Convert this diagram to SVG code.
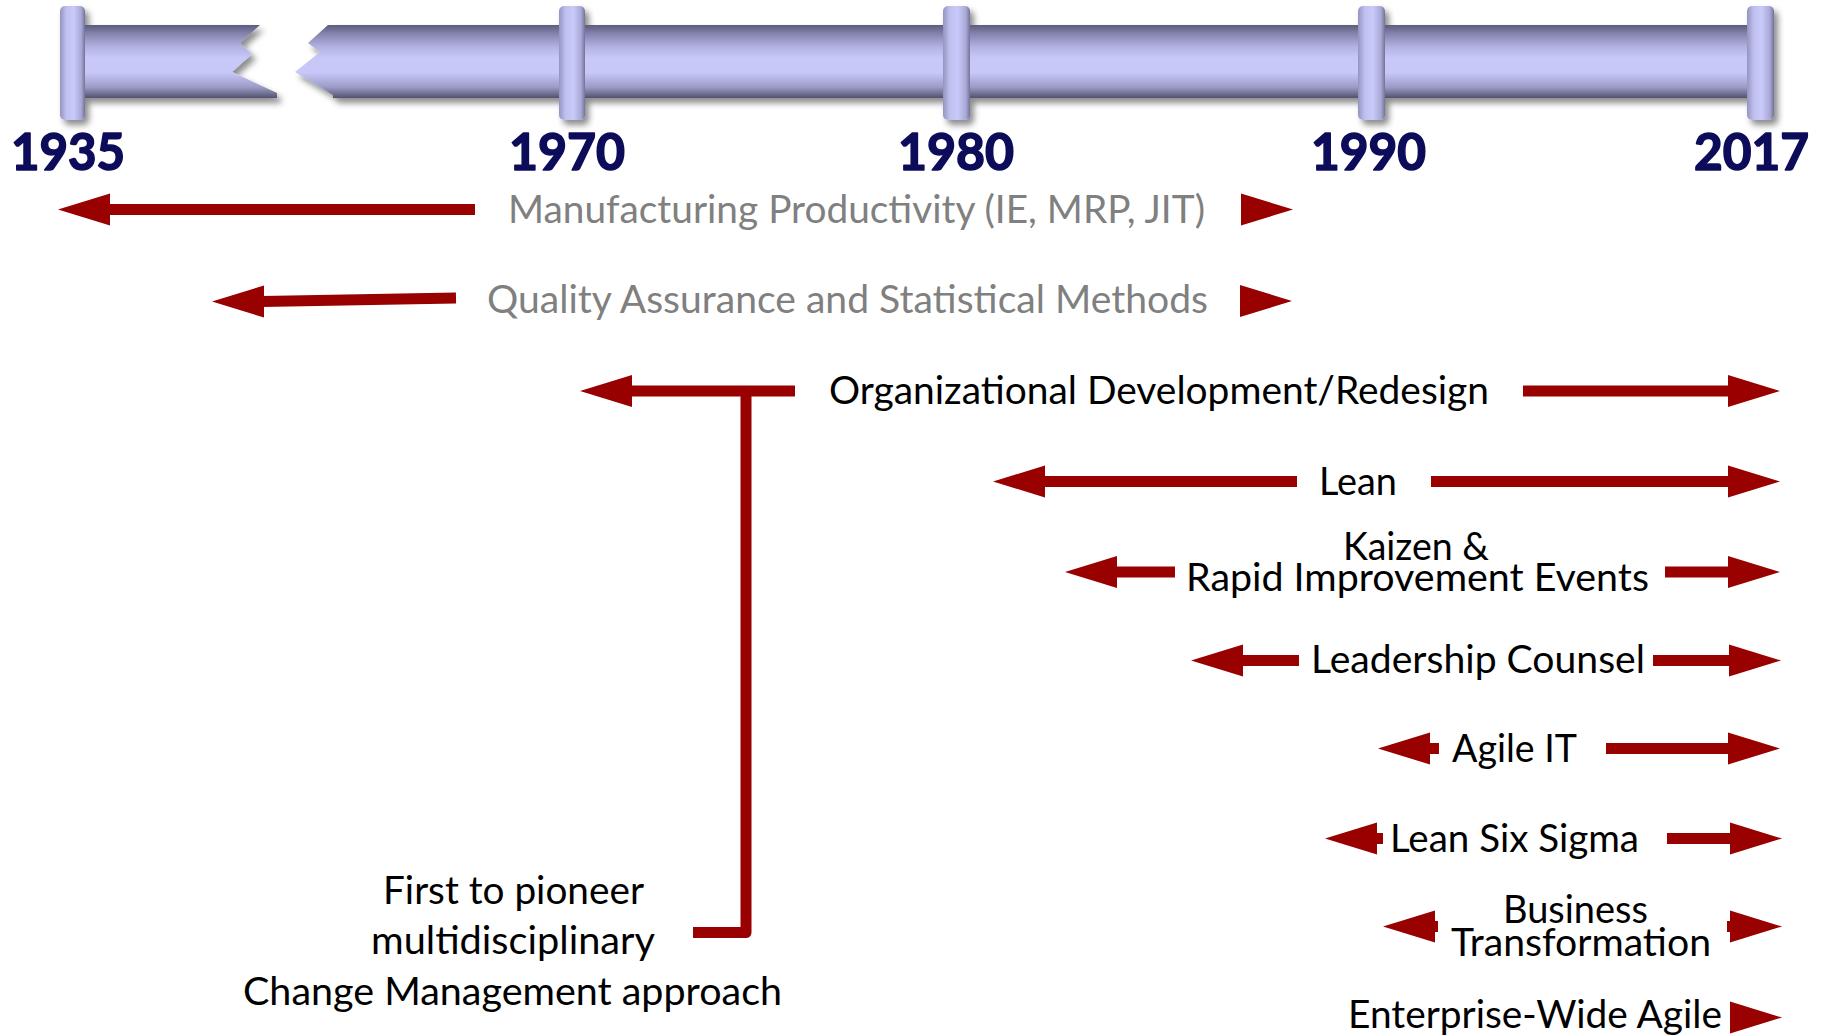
<svg xmlns="http://www.w3.org/2000/svg" xmlns:xlink="http://www.w3.org/1999/xlink" width="1825" height="1036" viewBox="0 0 1825 1036">
<style>
.t{font-family:Lato,"Open Sans","Liberation Sans",sans-serif;font-size:38px;fill:#000}
.g{fill:#808080}
.yr{font-family:Lato,"Open Sans","Liberation Sans",sans-serif;font-size:52px;font-weight:bold;fill:#0c0c5a;stroke:#0c0c5a;stroke-width:1.6px;stroke-linejoin:round}
.shaft{stroke:#990000;stroke-width:11;fill:none}
.head{fill:#990000}
</style>
<defs>
<linearGradient id="barG" x1="0" y1="0" x2="0" y2="1">
<stop offset="0" stop-color="#5c5c7c"/>
<stop offset="0.12" stop-color="#8484ae"/>
<stop offset="0.3" stop-color="#b2b2e2"/>
<stop offset="0.45" stop-color="#c8c8f8"/>
<stop offset="0.65" stop-color="#c8c8f8"/>
<stop offset="0.85" stop-color="#9c9cc8"/>
<stop offset="1" stop-color="#52526e"/>
</linearGradient>
<linearGradient id="capG" x1="0" y1="0" x2="1" y2="0">
<stop offset="0" stop-color="#9494c0"/>
<stop offset="0.25" stop-color="#c0c0f0"/>
<stop offset="0.55" stop-color="#cacafa"/>
<stop offset="0.85" stop-color="#a8a8d6"/>
<stop offset="1" stop-color="#727296"/>
</linearGradient>
<filter id="sh" x="-5%" y="-30%" width="110%" height="170%">
<feDropShadow dx="4" dy="5" stdDeviation="3" flood-color="#000" flood-opacity="0.45"/>
</filter>
<path id="hl" d="M0,0 L52,-16 L52,16 Z"/>
<path id="hr" d="M0,-16 L52,0 L0,16 Z"/>
</defs>
<rect width="1825" height="1036" fill="#fff"/>

<g id="timeline" filter="url(#sh)">
<polygon points="70,25 260,25 240,43 252,54 232,72 277,93 277,98 70,98" fill="url(#barG)"/>
<polygon points="328,25 1760,25 1760,98 333,98 333,95 295,72 320,52 308,43" fill="url(#barG)"/>
<rect x="60" y="6" width="25" height="114" rx="5" fill="url(#capG)"/>
<rect x="559" y="6" width="26" height="114" rx="5" fill="url(#capG)"/>
<rect x="943" y="6" width="27" height="114" rx="5" fill="url(#capG)"/>
<rect x="1358" y="6" width="27" height="114" rx="5" fill="url(#capG)"/>
<rect x="1747" y="6" width="27" height="114" rx="5" fill="url(#capG)"/>
</g>

<g id="years">
<text class="yr" x="11" y="170" textLength="114" lengthAdjust="spacingAndGlyphs">1935</text>
<text class="yr" x="509" y="170" textLength="116" lengthAdjust="spacingAndGlyphs">1970</text>
<text class="yr" x="898" y="170" textLength="116" lengthAdjust="spacingAndGlyphs">1980</text>
<text class="yr" x="1311" y="170" textLength="115" lengthAdjust="spacingAndGlyphs">1990</text>
<text class="yr" x="1694" y="170" textLength="115" lengthAdjust="spacingAndGlyphs">2017</text>
</g>

<g id="connectors">
<!-- Row 1 -->
<line class="shaft" x1="105" y1="209.5" x2="475" y2="209.5"/>
<use href="#hl" class="head" x="58" y="209.5"/>
<use href="#hr" class="head" x="1241" y="209.5"/>
<!-- Row 2 -->
<line class="shaft" x1="262" y1="301.5" x2="456" y2="298"/>
<use href="#hl" class="head" x="212" y="301.5"/>
<use href="#hr" class="head" x="1240" y="301"/>
<!-- Row 3 -->
<line class="shaft" x1="630" y1="391" x2="795" y2="391"/>
<use href="#hl" class="head" x="580" y="391"/>
<line class="shaft" x1="1523" y1="391" x2="1732" y2="391"/>
<use href="#hr" class="head" x="1728" y="391"/>
<path class="shaft" d="M746,391 V932.5 H693" stroke-linejoin="round"/>
<!-- Row 4 -->
<line class="shaft" x1="1042" y1="481.5" x2="1297" y2="481.5"/>
<use href="#hl" class="head" x="993" y="481.5"/>
<line class="shaft" x1="1431" y1="481.5" x2="1732" y2="481.5"/>
<use href="#hr" class="head" x="1728" y="481.5"/>
<!-- Row 5 -->
<line class="shaft" x1="1113" y1="572" x2="1175" y2="572"/>
<use href="#hl" class="head" x="1065" y="572"/>
<line class="shaft" x1="1665" y1="572" x2="1732" y2="572"/>
<use href="#hr" class="head" x="1728" y="572"/>
<!-- Row 6 -->
<line class="shaft" x1="1240" y1="660.5" x2="1299" y2="660.5"/>
<use href="#hl" class="head" x="1191" y="660.5"/>
<line class="shaft" x1="1653" y1="660.5" x2="1732" y2="660.5"/>
<use href="#hr" class="head" x="1729" y="660.5"/>
<!-- Row 7 -->
<line class="shaft" x1="1427" y1="748.5" x2="1439" y2="748.5"/>
<use href="#hl" class="head" x="1378" y="748.5"/>
<line class="shaft" x1="1606" y1="748.5" x2="1732" y2="748.5"/>
<use href="#hr" class="head" x="1728" y="748.5"/>
<!-- Row 8 -->
<line class="shaft" x1="1374" y1="838.5" x2="1383" y2="838.5"/>
<use href="#hl" class="head" x="1325" y="838.5"/>
<line class="shaft" x1="1667" y1="838.5" x2="1734" y2="838.5"/>
<use href="#hr" class="head" x="1730" y="838.5"/>
<!-- Row 9 -->
<line class="shaft" x1="1431" y1="926.5" x2="1438" y2="926.5"/>
<use href="#hl" class="head" x="1383" y="926.5"/>
<line class="shaft" x1="1727" y1="926.5" x2="1734" y2="926.5"/>
<use href="#hr" class="head" x="1730" y="926.5"/>
<!-- Row 10 -->
<use href="#hr" class="head" x="1730" y="1017.5"/>
</g>

<g id="n-manufacturing"><text class="t g" x="508" y="222.5" textLength="697" lengthAdjust="spacingAndGlyphs">Manufacturing Productivity (IE, MRP, JIT)</text></g>
<g id="n-quality"><text class="t g" x="487" y="313" textLength="721" lengthAdjust="spacingAndGlyphs">Quality Assurance and Statistical Methods</text></g>
<g id="n-orgdev"><text class="t" x="829" y="404" textLength="660" lengthAdjust="spacingAndGlyphs">Organizational Development/Redesign</text></g>
<g id="n-lean"><text class="t" x="1319" y="494.5" textLength="78" lengthAdjust="spacingAndGlyphs">Lean</text></g>
<g id="n-kaizen">
<text class="t" x="1343" y="560" textLength="146" lengthAdjust="spacingAndGlyphs">Kaizen &amp;</text>
<text class="t" x="1186" y="591" textLength="463" lengthAdjust="spacingAndGlyphs">Rapid Improvement Events</text>
</g>
<g id="n-leadership"><text class="t" x="1311" y="673" textLength="334" lengthAdjust="spacingAndGlyphs">Leadership Counsel</text></g>
<g id="n-agileit"><text class="t" x="1452" y="761.5" textLength="125" lengthAdjust="spacingAndGlyphs">Agile IT</text></g>
<g id="n-leansixsigma"><text class="t" x="1390" y="851.5" textLength="249" lengthAdjust="spacingAndGlyphs">Lean Six Sigma</text></g>
<g id="n-business">
<text class="t" x="1503" y="923" textLength="145" lengthAdjust="spacingAndGlyphs">Business</text>
<text class="t" x="1451" y="956" textLength="260" lengthAdjust="spacingAndGlyphs">Transformation</text>
</g>
<g id="n-enterprise"><text class="t" x="1348" y="1028" textLength="374" lengthAdjust="spacingAndGlyphs">Enterprise-Wide Agile</text></g>
<g id="n-pioneer">
<text class="t" x="383" y="904" textLength="261" lengthAdjust="spacingAndGlyphs">First to pioneer</text>
<text class="t" x="371" y="954" textLength="284" lengthAdjust="spacingAndGlyphs">multidisciplinary</text>
<text class="t" x="243" y="1005" textLength="539" lengthAdjust="spacingAndGlyphs">Change Management approach</text>
</g>
</svg>
